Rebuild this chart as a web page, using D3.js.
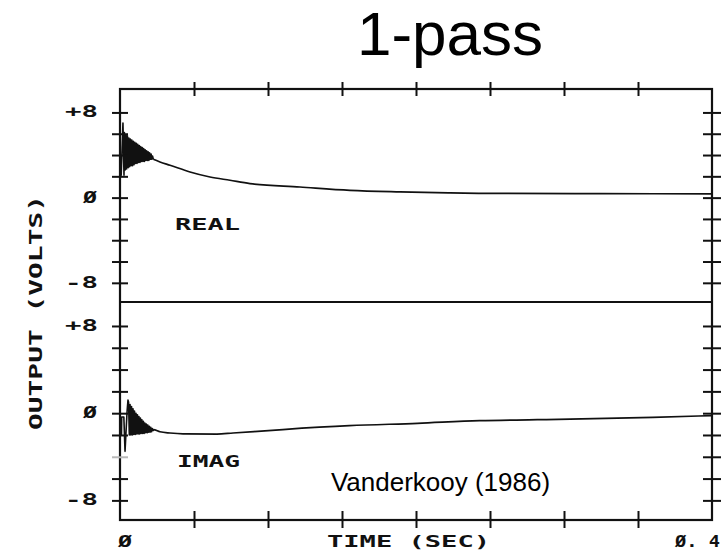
<!DOCTYPE html>
<html>
<head>
<meta charset="utf-8">
<script src="https://cdn.jsdelivr.net/npm/d3@7"></script>
<style>
  html, body { margin: 0; padding: 0; background: #fff; }
  svg { display: block; }
  .plot { font-family: "DejaVu Sans Mono", monospace; font-weight: bold; fill: #111; }
</style>
</head>
<body>
<svg id="chart" width="724" height="551"></svg>
<script>
// ---- data -------------------------------------------------------------
const timeTicks = [0.05, 0.10, 0.15, 0.20, 0.25, 0.30, 0.35];
const voltTicks = [-8, -6, -4, -2, 0, 2, 4, 6, 8];
// plotter lettering uses a slashed zero
const voltLabels = { "-8": "-8", "0": "Ø", "8": "+8" };
const timeLabelStart = "Ø";
const timeLabelEnd = "Ø. 4";

// REAL channel: switch-on transient (seconds, volts)
const realStartT = [0, 0.0008, 0.0020, 0.0027];
const realStartV = [2.1, 2.1, 7.0, 2.1];
// ringing, sampled every ringDt seconds from realRingT0
const ringDt = 0.0005;
const realRingT0 = 0.0030;
const realRing = [6.1, 2.6, 5.9, 2.7, 5.8, 2.8, 5.6, 2.9, 5.5, 3.0,
                  5.4, 3.0, 5.3, 3.1, 5.2, 3.2, 5.1, 3.2, 5.0, 3.3,
                  4.9, 3.3, 4.8, 3.4, 4.7, 3.4, 4.6, 3.4, 4.5, 3.5,
                  4.4, 3.5, 4.3, 3.5, 4.2, 3.6, 4.1, 3.6, 3.9, 3.6];
// slow decay after the ringing
const realTailT = [0.0225, 0.027, 0.0338, 0.0473, 0.0608, 0.0743, 0.0878, 0.1216, 0.1554, 0.1892, 0.223, 0.243, 0.324, 0.40];
const realTailV = [3.6, 3.35, 3.04, 2.41, 1.94, 1.63, 1.32, 1.0, 0.69, 0.54, 0.44, 0.40, 0.37, 0.36];

// IMAG channel
const imagStartT = [0, 0.0010, 0.00115, 0.0026, 0.0034, 0.0048, 0.0054];
const imagStartV = [-2.0, -2.0, -0.35, -0.35, -3.5, 0.2, 1.2];
const imagRingT0 = 0.0058;
const imagRing = [1.0, -2.0, 0.8, -2.0, 0.6, -2.0, 0.4, -1.95, 0.2, -1.95,
                  0.0, -1.9, -0.15, -1.9, -0.3, -1.9, -0.45, -1.85, -0.6, -1.85,
                  -0.75, -1.85, -0.9, -1.8, -1.0, -1.8, -1.1, -1.75, -1.2, -1.75,
                  -1.3, -1.7, -1.4, -1.65];
const imagTailT = [0.0225, 0.027, 0.0338, 0.0426, 0.0655, 0.0764, 0.110, 0.155, 0.201, 0.243, 0.282, 0.360, 0.40];
const imagTailV = [-1.5, -1.7, -1.82, -1.9, -1.92, -1.82, -1.5, -1.15, -0.93, -0.69, -0.6, -0.38, -0.22];

// ---- layout -----------------------------------------------------------
const svg = d3.select("#chart");
const frameL = 120, frameR = 712, frameT = 89, frameM = 302, frameB = 520;

const x = d3.scaleLinear().domain([0, 0.4]).range([frameL, frameR]);
const yReal = d3.scaleLinear().domain([-9.8, 10.2]).range([frameM, frameT]);
const yImag = d3.scaleLinear().domain([-9.8, 10.2]).range([frameB, frameM]);

const ink = "#111";

// ---- series -----------------------------------------------------------
function pts(ts, vs) { return ts.map((t, i) => [t, vs[i]]); }
function ringPts(t0, vs) { return vs.map((v, i) => [t0 + i * ringDt, v]); }

function drawChannel(y, startT, startV, ringT0, ring, tailT, tailV) {
  const lin = d3.line().x(d => x(d[0])).y(d => y(d[1]));
  const smooth = d3.line().x(d => x(d[0])).y(d => y(d[1])).curve(d3.curveMonotoneX);
  const early = pts(startT, startV).concat(ringPts(ringT0, ring));
  svg.append("path").attr("d", lin(early))
    .attr("fill", "none").attr("stroke", ink).attr("stroke-width", 1.6)
    .attr("stroke-linejoin", "round");
  const lastRing = early[early.length - 1];
  svg.append("path").attr("d", smooth([lastRing].concat(pts(tailT, tailV))))
    .attr("fill", "none").attr("stroke", ink).attr("stroke-width", 1.7);
}
drawChannel(yReal, realStartT, realStartV, realRingT0, realRing, realTailT, realTailV);
drawChannel(yImag, imagStartT, imagStartV, imagRingT0, imagRing, imagTailT, imagTailV);

// ---- frame ------------------------------------------------------------
svg.append("rect").attr("x", frameL).attr("y", frameT)
  .attr("width", frameR - frameL).attr("height", frameB - frameT)
  .attr("fill", "none").attr("stroke", ink).attr("stroke-width", 2.2);
svg.append("line").attr("x1", frameL).attr("x2", frameR)
  .attr("y1", yReal.range()[0]).attr("y2", yReal.range()[0])
  .attr("stroke", ink).attr("stroke-width", 2);

// ---- axes (ticks cross the frame) -------------------------------------
function crossTicks(g, axis, a, b, vertical) {
  g.call(axis);
  g.select(".domain").remove();
  g.selectAll(".tick text").remove();
  g.selectAll(".tick line")
    .attr(vertical ? "x1" : "y1", a).attr(vertical ? "x2" : "y2", b)
    .attr("stroke", ink).attr("stroke-width", 2);
}
[yReal, yImag].forEach((y, k) => {
  const gl = svg.append("g").attr("transform", `translate(${frameL},0)`);
  crossTicks(gl, d3.axisLeft(y).tickValues(voltTicks), -8, 8, true);
  const gr = svg.append("g").attr("transform", `translate(${frameR},0)`);
  crossTicks(gr, d3.axisRight(y).tickValues(voltTicks), -9, 9, true);
  if (k === 1) gl.selectAll(".tick").filter(d => d === -4).select("line").attr("stroke", "#b8b8b8");
});
const gt = svg.append("g").attr("transform", `translate(0,${frameT})`);
crossTicks(gt, d3.axisTop(x).tickValues(timeTicks), -7, 7, false);
const gb = svg.append("g").attr("transform", `translate(0,${frameB})`);
crossTicks(gb, d3.axisBottom(x).tickValues(timeTicks), -9, 8, false);

// ---- labels -----------------------------------------------------------
const plot = svg.append("g").attr("class", "plot");
function label(txt, px, py, size, width, anchor) {
  return plot.append("text").attr("x", px).attr("y", py)
    .attr("font-size", size).attr("text-anchor", anchor || "start")
    .attr("dominant-baseline", "central")
    .attr("textLength", width).attr("lengthAdjust", "spacingAndGlyphs")
    .text(txt);
}
[yReal, yImag].forEach(y => {
  [-8, 0, 8].forEach(v => {
    const t = voltLabels[String(v)];
    if (v === 0) label(t, 83, y(v), 15, 14);
    else label(t, 65, y(v), 15, 33);
  });
});
label(timeLabelStart, x(0) - 2, 542, 15, 14);
label(timeLabelEnd, x(0.4) - 37, 542, 15, 45);
label("TIME  (SEC)", 327, 542, 15, 163);
label("REAL", 175, yReal(-2.6), 15, 65);
label("IMAG", 177, yImag(-4.5), 15, 63);
plot.append("text")
  .attr("transform", `translate(36,${(195 + 430) / 2}) rotate(-90)`)
  .attr("text-anchor", "middle").attr("dominant-baseline", "central")
  .attr("font-size", 17).attr("textLength", 235).attr("lengthAdjust", "spacingAndGlyphs")
  .text("OUTPUT  (VOLTS)");

// ---- title and credit -------------------------------------------------
svg.append("text").attr("x", 450).attr("y", 55)
  .attr("text-anchor", "middle")
  .attr("font-family", "Liberation Sans, Arial, sans-serif")
  .attr("font-size", 62).attr("fill", "#000").text("1-pass");
svg.append("text").attr("x", 440.5).attr("y", 491)
  .attr("text-anchor", "middle")
  .attr("font-family", "Liberation Sans, Arial, sans-serif")
  .attr("font-size", 26).attr("fill", "#000").text("Vanderkooy (1986)");
</script>
</body>
</html>
